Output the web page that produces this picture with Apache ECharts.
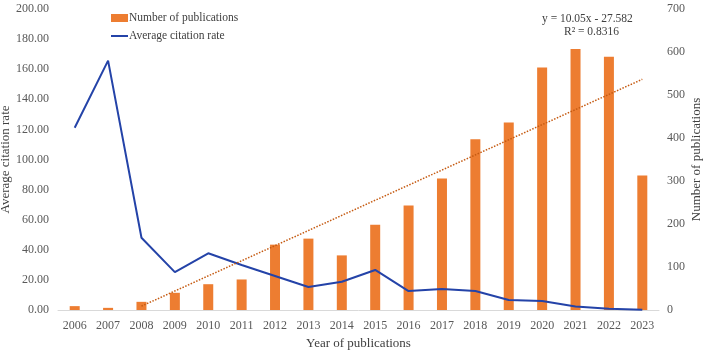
<!DOCTYPE html>
<html>
<head>
<meta charset="utf-8">
<script src="https://cdn.jsdelivr.net/npm/echarts@6/dist/echarts.min.js"></script>
<style>html,body{margin:0;padding:0;background:#fff}#c{width:708px;height:351px}</style>
</head>
<body>
<div id="c"></div>
<script>
const years = ['2006','2007','2008','2009','2010','2011','2012','2013','2014','2015','2016','2017','2018','2019','2020','2021','2022','2023'];
const publications = [9,5,19,40,60,71,152,166,127,198,243,306,397,436,564,607,589,313];
const citationRate = [121.1,165.7,48.0,25.2,37.7,29.9,22.6,15.3,18.8,26.6,12.6,14.0,12.6,6.6,6.0,2.4,0.9,0.2];
const trendStart = ['2008', 2.57];
const trendEnd = ['2023', 153.3];
const leftTicks = ['0.00','20.00','40.00','60.00','80.00','100.00','120.00','140.00','160.00','180.00','200.00'];
const eqLines = ['y = 10.05x - 27.582', 'R² = 0.8316'];

const font = 'Liberation Serif';
const chart = echarts.init(document.getElementById('c'), null, {renderer:'canvas'});
chart.setOption({
  animation: false,
  textStyle: {fontFamily: font},
  grid: {left: 58, right: 49, top: 9, bottom: 41, containLabel: false, outerBoundsMode: 'none'},
  legend: {
    orient: 'vertical', left: 105, top: 7, itemWidth: 17, itemHeight: 8, itemGap: 6,
    textStyle: {fontFamily: font, fontSize: 11.5, color: '#404040', padding: [0,0,0,-4]},
    data: [
      {name: 'Number of publications', icon: 'rect'},
      {name: 'Average citation rate', itemStyle: {opacity: 0}}
    ]
  },
  graphic: [
    {type: 'text', left: 542, top: 13, style: {text: eqLines[0], font: '11.5px "Liberation Serif"', fill: '#404040'}},
    {type: 'text', left: 564, top: 26, style: {text: eqLines[1], font: '11.5px "Liberation Serif"', fill: '#404040'}}
  ],
  xAxis: {
    type: 'category', data: years,
    name: 'Year of publications', nameLocation: 'middle', nameGap: 27, nameMoveOverlap: false,
    nameTextStyle: {fontFamily: font, fontSize: 13, color: '#404040'},
    axisLine: {lineStyle: {color: '#D9D9D9', width: 1}},
    axisTick: {show: false},
    axisLabel: {fontFamily: font, fontSize: 12, color: '#595959', margin: 10}
  },
  yAxis: [
    {
      type: 'value', min: 0, max: 200, interval: 20,
      name: 'Average citation rate', nameLocation: 'middle', nameGap: 46, nameMoveOverlap: false,
      nameTextStyle: {fontFamily: font, fontSize: 13, color: '#404040'},
      axisLine: {show: false}, axisTick: {show: false}, splitLine: {show: false},
      axisLabel: {fontFamily: font, fontSize: 12, color: '#595959', margin: 9,
        formatter: (v) => leftTicks[Math.round(v / 20)]}
    },
    {
      type: 'value', min: 0, max: 700, interval: 100,
      name: 'Number of publications', nameLocation: 'middle', nameGap: 31, nameRotate: 90, nameMoveOverlap: false,
      nameTextStyle: {fontFamily: font, fontSize: 13, color: '#404040'},
      axisLine: {show: false}, axisTick: {show: false}, splitLine: {show: false},
      axisLabel: {fontFamily: font, fontSize: 12, color: '#595959', margin: 8}
    }
  ],
  series: [
    {
      name: 'Number of publications', type: 'bar', yAxisIndex: 1, data: publications,
      barWidth: 10, itemStyle: {color: '#ED7D31'}, z: 1
    },
    {
      name: 'Average citation rate', type: 'line', yAxisIndex: 0, data: citationRate,
      symbol: 'none', showSymbol: false, lineStyle: {color: '#2443A8', width: 2}, itemStyle: {color: '#2443A8'}, z: 3,
      markLine: {
        silent: true, symbol: ['none','none'], label: {show: false},
        lineStyle: {color: '#C55A11', type: 'dotted', width: 1.5},
        data: [[{coord: trendStart}, {coord: trendEnd}]]
      }
    }
  ]
});
</script>
</body>
</html>
